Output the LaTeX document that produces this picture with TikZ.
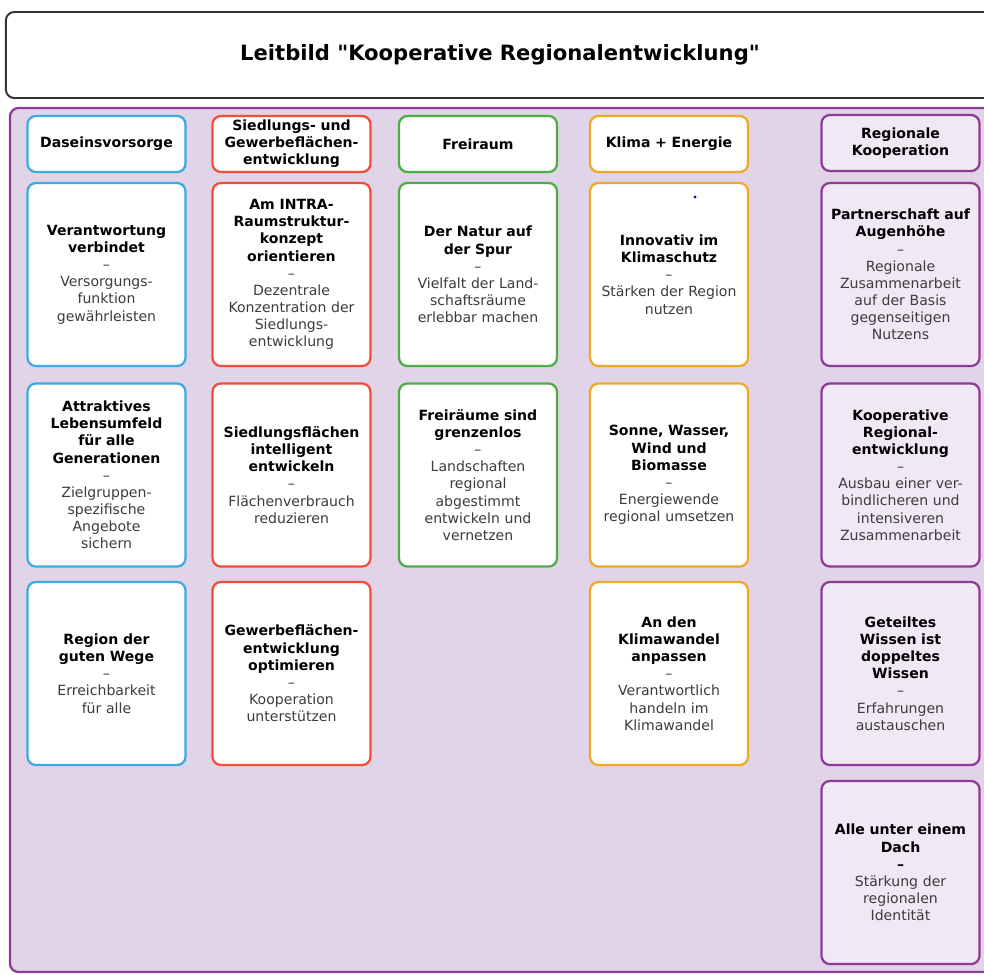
\documentclass[tikz,border=0pt]{standalone}
\usepackage{fontspec}
\setmainfont{DejaVu Sans}[Ligatures=TeXOff]
\usepackage{tikz}

\definecolor{hblau}{HTML}{3AACE3}
\definecolor{hrot}{HTML}{F04E37}
\definecolor{hgruen}{HTML}{4CAF45}
\definecolor{horange}{HTML}{F0A828}
\definecolor{hlila}{HTML}{8E3A96}
\definecolor{hlilafeld}{HTML}{E1D3E8}
\definecolor{hlilakarte}{HTML}{F1E8F6}
\definecolor{untertext}{HTML}{3C3C3C}
\definecolor{titelrand}{HTML}{333333}

\newcommand{\ziel}[2]{{\color{black}\bfseries #1}\\–\\#2}

\begin{document}
\begin{tikzpicture}[x=0.025cm,y=-0.025cm,
  karte/.style={draw=#1,line width=1.6pt,rounded corners=6pt,fill=white,
    text width=3.8cm,align=center,inner sep=1.5pt,
    minimum width=3.95cm,minimum height=4.575cm,
    text=untertext,font=\fontsize{10}{12.2}\selectfont},
  kopf/.style={karte=#1,minimum height=1.4cm,text=black,
    font=\fontsize{10}{12.2}\selectfont\bfseries},
  titel/.style={draw=titelrand,line width=1.4pt,rounded corners=6pt,fill=white,
    minimum width=24.7cm,minimum height=2.15cm,
    font=\fontsize{15}{18}\selectfont\bfseries}]
\useasboundingbox (0,0) rectangle (984,974);
\clip (0,0) rectangle (984,974);
\fill[white] (0,0) rectangle (984,974);

\node[titel] (leitbild) at (500,55) {Leitbild "Kooperative Regionalentwicklung"};

\draw[hlila,line width=1.6pt,fill=hlilafeld,rounded corners=6pt] (10,108) rectangle (994,972);

% Daseinsvorsorge
\node[kopf=hblau] (d0) at (106.5,144) {Daseinsvorsorge};
\node[karte=hblau] (d1) at (106.5,274.5) {\ziel{Verantwortung\\verbindet}{Versorgungs-\\funktion\\gewährleisten}};
\node[karte=hblau] (d2) at (106.5,475) {\ziel{Attraktives\\Lebensumfeld\\für alle\\Generationen}{Zielgruppen-\\spezifische\\Angebote\\sichern}};
\node[karte=hblau] (d3) at (106.5,673.5) {\ziel{Region der\\guten Wege}{Erreichbarkeit\\für alle}};

% Siedlung und Gewerbe
\node[kopf=hrot] (s0) at (291.5,144) {Siedlungs- und\\Gewerbeflächen-\\entwicklung};
\node[karte=hrot] (s1) at (291.5,274.5) {\ziel{Am INTRA-\\Raumstruktur-\\konzept\\orientieren}{Dezentrale\\Konzentration der\\Siedlungs-\\entwicklung}};
\node[karte=hrot] (s2) at (291.5,475) {\ziel{Siedlungsflächen\\intelligent\\entwickeln}{Flächenverbrauch\\reduzieren}};
\node[karte=hrot] (s3) at (291.5,673.5) {\ziel{Gewerbeflächen-\\entwicklung\\optimieren}{Kooperation\\unterstützen}};

% Freiraum
\node[kopf=hgruen] (f0) at (478,144) {Freiraum};
\node[karte=hgruen] (f1) at (478,274.5) {\ziel{Der Natur auf\\der Spur}{Vielfalt der Land-\\schaftsräume\\erlebbar machen}};
\node[karte=hgruen] (f2) at (478,475) {\ziel{Freiräume sind\\grenzenlos}{Landschaften\\regional\\abgestimmt\\entwickeln und\\vernetzen}};

% Klima + Energie
\node[kopf=horange] (k0) at (669,144) {Klima + Energie};
\node[karte=horange] (k1) at (669,274.5) {\ziel{Innovativ im\\Klimaschutz}{Stärken der Region\\nutzen}};
\node[karte=horange] (k2) at (669,475) {\ziel{Sonne, Wasser,\\Wind und\\Biomasse}{Energiewende\\regional umsetzen}};
\node[karte=horange] (k3) at (669,673.5) {\ziel{An den\\Klimawandel\\anpassen}{Verantwortlich\\handeln im\\Klimawandel}};
\fill[blue] (695,197) circle (1.1pt);

% Regionale Kooperation
\node[kopf=hlila,fill=hlilakarte] (r0) at (900.5,143) {Regionale\\Kooperation};
\node[karte=hlila,fill=hlilakarte] (r1) at (900.5,274.5) {\ziel{Partnerschaft auf\\Augenhöhe}{Regionale\\Zusammenarbeit\\auf der Basis\\gegenseitigen\\Nutzens}};
\node[karte=hlila,fill=hlilakarte] (r2) at (900.5,475) {\ziel{Kooperative\\Regional-\\entwicklung}{Ausbau einer ver-\\bindlicheren und\\intensiveren\\Zusammenarbeit}};
\node[karte=hlila,fill=hlilakarte] (r3) at (900.5,673.5) {\ziel{Geteiltes\\Wissen ist\\doppeltes\\Wissen}{Erfahrungen\\austauschen}};
\node[karte=hlila,fill=hlilakarte] (r4) at (900.5,872.5) {{\color{black}\bfseries Alle unter einem\\Dach\\–}\\Stärkung der\\regionalen\\Identität};
\end{tikzpicture}
\end{document}
